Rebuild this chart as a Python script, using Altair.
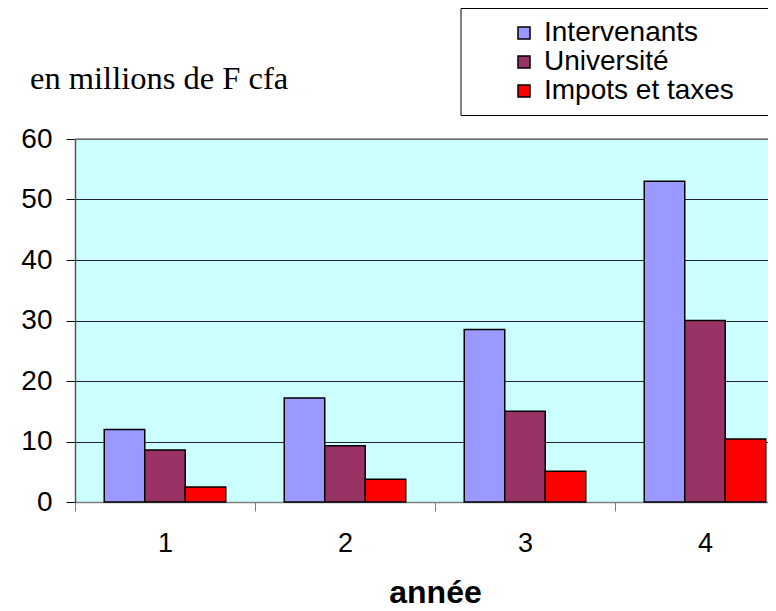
import altair as alt
import pandas as pd

years = ["1", "2", "3", "4"]
series = ["Intervenants", "Université", "Impots et taxes"]
intervenants = [12, 17.2, 28.5, 53]
universite = [8.6, 9.3, 15, 30]
impots = [2.5, 3.75, 5.1, 10.4]
colors = ["#9999FF", "#993366", "#FF0000"]
y_ticks = [0, 10, 20, 30, 40, 50, 60]
unit_label = "en millions de F cfa"

rows = []
for name, vals in zip(series, [intervenants, universite, impots]):
    for yr, v in zip(years, vals):
        rows.append({"année": yr, "série": name, "valeur": v})
df = pd.DataFrame(rows)

PAD_L = 67
W, H = 760 - PAD_L, 363
FONT = "Liberation Sans"

bars = alt.Chart(df).mark_bar(stroke="black", strokeWidth=1.5).encode(
    x=alt.X(
        "année:N", sort=years,
        scale=alt.Scale(range=[0, 720], paddingInner=0, paddingOuter=0),
        axis=alt.Axis(
            title="année", labelAngle=0, tickBand="extent", tickSize=9,
            tickColor="#808080", domainColor="#808080", domainWidth=1.5,
            labelFont=FONT, labelFontSize=27, labelColor="black", labelPadding=19,
            titleFont=FONT, titleFontSize=32, titleFontWeight="bold",
            titleColor="black", titlePadding=21,
        ),
    ),
    xOffset=alt.XOffset("série:N", sort=series,
                        scale=alt.Scale(paddingInner=0, paddingOuter=0.722)),
    y=alt.Y(
        "valeur:Q", scale=alt.Scale(domain=[0, 60], nice=False),
        axis=alt.Axis(
            title=None, values=y_ticks, grid=True, gridColor="#222222", gridWidth=1,
            domainColor="#555555", domainWidth=1.5, tickColor="black", tickSize=9,
            labelFont=FONT, labelFontSize=28, labelColor="black", labelPadding=14,
        ),
    ),
    color=alt.Color(
        "série:N", scale=alt.Scale(domain=series, range=colors),
        legend=alt.Legend(
            title=None, orient="none", legendX=435, legendY=-120, padding=0,
            labelFont=FONT, labelFontSize=28, labelColor="black", labelOffset=6,
            labelLimit=400,
            symbolType="square", symbolSize=144, symbolStrokeColor="black",
            symbolStrokeWidth=1.5, symbolOpacity=1, rowPadding=1,
        ),
    ),
)

one = pd.DataFrame({"t": [unit_label]})

BOX_L, BOX_T, BOX_B = 386, -130.5, -23.5

box_edges = [
    alt.Chart(one).mark_rule(color="black", strokeWidth=1).encode(
        x=alt.value(BOX_L), x2=alt.value(W + 20), y=alt.value(BOX_T)),
    alt.Chart(one).mark_rule(color="black", strokeWidth=1).encode(
        x=alt.value(BOX_L), x2=alt.value(W + 20), y=alt.value(BOX_B)),
    alt.Chart(one).mark_rule(color="black", strokeWidth=1).encode(
        x=alt.value(BOX_L), y=alt.value(BOX_T), y2=alt.value(BOX_B)),
]

top_border = alt.Chart(one).mark_rule(color="#808080", strokeWidth=1.5).encode(
    x=alt.value(0), x2=alt.value(W), y=alt.value(0)
)

unit_text = alt.Chart(one).mark_text(
    align="left", baseline="alphabetic", font="Liberation Serif", fontSize=32.5, color="black"
).encode(x=alt.value(-45), y=alt.value(-50), text="t:N")

chart = alt.layer(*box_edges, bars, top_border, unit_text).properties(
    width=W, height=H,
    autosize=alt.AutoSizeParams(type="none"),
    padding={"left": PAD_L, "top": 131, "right": 0, "bottom": 109},
    background="white",
).configure_view(fill="#CCFFFF", stroke=None)

chart.save("out.html", embed_options={"renderer": "svg", "actions": False})
